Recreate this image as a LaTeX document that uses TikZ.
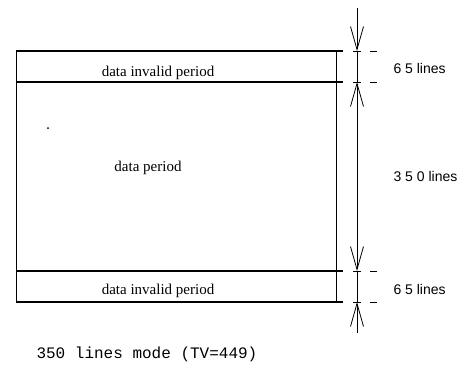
\documentclass[tikz,border=0pt]{standalone}
\usepackage{fontspec}
\setmainfont{Liberation Serif}
\newfontfamily\dimfont{Liberation Sans}
\newfontfamily\modefont{Liberation Mono}
\usetikzlibrary{arrows.meta}
\tikzset{
	boxtext/.style={anchor=base, font=\fontsize{15}{15}\selectfont},
	dimtext/.style={anchor=base west, font=\dimfont\fontsize{14}{14}\selectfont},
	dimline/.style={line width=0.8pt, >={Straight Barb[length=23pt,width=13pt]}},
	tickmark/.style={line width=0.9pt}
}
\begin{document}
\begin{tikzpicture}[x=1pt, y=-1pt]
			%%%%% START %%%%%
			\useasboundingbox (0, 0) rectangle (468, 369);
			
			% frame
			\draw[line width=0.9pt] (16, 51) -- (16, 302);
			\draw[line width=0.9pt] (336, 51) -- (336, 302);
			\foreach \lvl in {51, 82, 271, 302}
				\draw[line width=1.2pt] (16, \lvl) -- (343, \lvl);
			
			\node[boxtext] (topinvalid) at (158, 76) {data invalid period};
			\node[boxtext] (dataper) at (148, 171) {data period};
			\node[boxtext] (botinvalid) at (158, 294) {data invalid period};
			\fill (48, 128) circle (1);
			
			% dimension line
			\coordinate (d0) at (357, 8);
			\coordinate (d1) at (357, 51);
			\coordinate (d2) at (357, 82);
			\coordinate (d3) at (357, 271);
			\coordinate (d4) at (357, 302);
			\coordinate (d5) at (357, 333);
			\draw[dimline, ->] (d0) -- (d1);
			\draw[dimline] (d1) -- (d2);
			\draw[dimline, <->] (d2) -- (d3);
			\draw[dimline] (d3) -- (d4);
			\draw[dimline, <-] (d4) -- (d5);
			\foreach \lvl in {51, 82, 271, 302} {
				\draw[tickmark] (353, \lvl) -- (361, \lvl);
				\draw[tickmark] (370, \lvl) -- (377, \lvl);
			}
			
			\node[dimtext] (topcount) at (390, 74) {6 5 lines};
			\node[dimtext] (midcount) at (390, 181) {3 5 0 lines};
			\node[dimtext] (botcount) at (390, 294) {6 5 lines};
			
			\node[anchor=base west, font=\modefont\fontsize{16}{16}\selectfont] (mode) at (33, 358) {350 lines mode (TV=449)};
			%%%%% END %%%%%
\end{tikzpicture}
\end{document}
